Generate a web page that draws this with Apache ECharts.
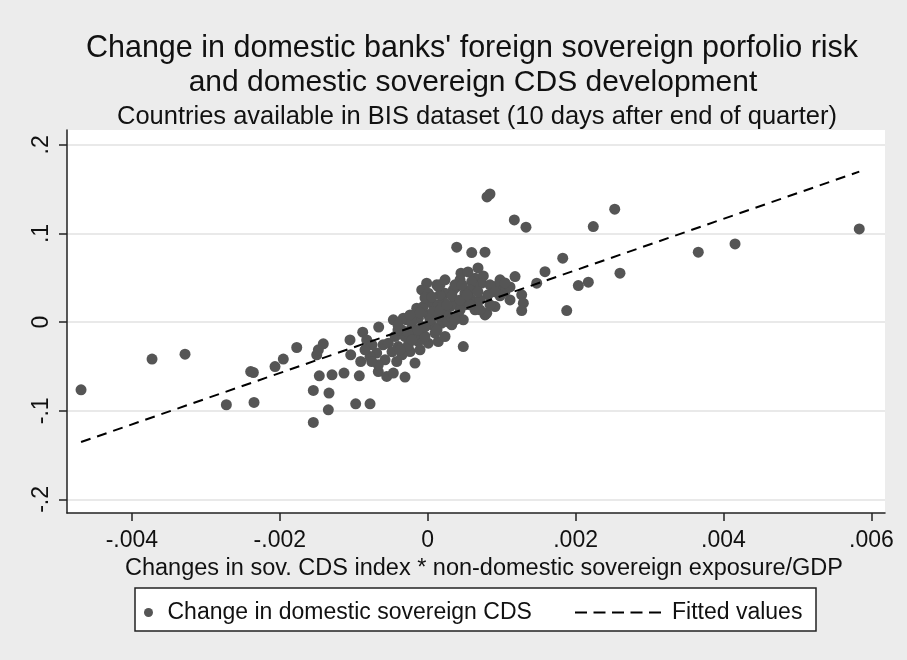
<!DOCTYPE html>
<html>
<head>
<meta charset="utf-8">
<script src="https://cdn.jsdelivr.net/npm/echarts@6/dist/echarts.min.js"></script>
<style>
  html, body { margin: 0; padding: 0; background: #ececec; }
  #chart { width: 907px; height: 660px; }
</style>
</head>
<body>
<div id="chart"></div>
<script>
// Exposure-weighted CDS changes (x) vs. change in domestic sovereign CDS (y)
const cdsExposure = [
  -0.004688, -0.003728, -0.003282, -0.002723, -0.002394, -0.002358, -0.002349, -0.002065, -0.001953, -0.001771,
  -0.001547, -0.001547, -0.001501, -0.001479, -0.001466, -0.001412, -0.001335, -0.001344, -0.001294, -0.001132,
  -0.001051, -0.001041, -0.000974, -0.000925, -0.000906, -0.000879, -0.000825, -0.000780, -0.000663, -0.000690,
  -0.000780, -0.000668, -0.000554, -0.000465, -0.000307, -0.000419, -0.000172, -0.000239, -0.000465, -0.000284,
  -0.000330, -0.000604, -0.000533, -0.000398, -0.000262, -0.000127, 0.000008, 0.000143, -0.000442, -0.000307,
  -0.000172, -0.000037, 0.000099, 0.000234, -0.000352, -0.000216, -0.000081, 0.000054, 0.000189, 0.000325,
  -0.000127, 0.000008, 0.000143, 0.000257, 0.000414, 0.000481, -0.000149, -0.000060, 0.000054, 0.000143,
  0.000302, 0.000369, -0.000014, 0.000122, -0.000081, 0.000008, 0.000234, 0.000211, 0.000504, 0.000572,
  0.000504, 0.000640, 0.000437, 0.000392, 0.000346, 0.000450, 0.000392, 0.000595, 0.000775, 0.000640,
  0.000752, 0.000730, 0.000617, 0.000595, 0.000978, 0.000955, 0.001181, 0.001022, 0.000910, 0.000775,
  0.001271, 0.001293, 0.001271, 0.001045, 0.000798, 0.000663, 0.000481, 0.000842, 0.000802, 0.001171,
  0.001329, 0.001826, 0.001586, 0.001474, 0.001880, 0.002037, 0.002172, 0.002239, 0.002529, 0.002600,
  0.003659, 0.004156, 0.005836, 0.000072, 0.000275, -0.000212, -0.000037, 0.000166, 0.000329, 0.000437,
  0.000572, 0.000815, 0.000707, -0.000483, -0.000348, -0.000577, -0.000104, -0.000402, -0.000753, -0.000848,
  0.000978, 0.001113, 0.000369, 0.000143, -0.000668, -0.000757, -0.000402, -0.000266, -0.000131, 0.000031,
  0.000166, 0.000261, 0.000329, 0.000437, 0.000531, 0.000680, 0.000842, 0.000910, 0.001045, 0.001113,
  0.000572, 0.000464, 0.000166, 0.000058, -0.000104, -0.000239, -0.000375, -0.000212, -0.000037, 0.000126,
  0.000369, 0.000707, 0.000842, 0.000234, 0.000545, 0.000680
];
const domesticCds = [
  -0.0763, -0.0417, -0.0361, -0.0932, -0.0557, -0.0568, -0.0906, -0.0501, -0.0417, -0.0286,
  -0.0771, -0.1132, -0.0369, -0.0312, -0.0605, -0.0245, -0.0800, -0.0989, -0.0594, -0.0575,
  -0.0200, -0.0369, -0.0921, -0.0605, -0.0444, -0.0113, -0.0200, -0.0921, -0.0056, -0.0349,
  -0.0388, -0.0557, -0.0613, -0.0575, -0.0620, -0.0444, -0.0462, -0.0331, 0.0026, 0.0026,
  0.0045, -0.0256, -0.0237, -0.0275, -0.0256, -0.0219, -0.0237, -0.0219, -0.0162, -0.0162,
  -0.0143, -0.0162, -0.0124, -0.0162, -0.0087, -0.0068, -0.0050, -0.0030, -0.0011, -0.0030,
  0.0045, 0.0082, 0.0063, 0.0082, 0.0082, 0.0026, 0.0158, 0.0176, 0.0214, 0.0195,
  0.0176, 0.0214, 0.0440, 0.0421, 0.0364, 0.0327, 0.0327, 0.0232, 0.0327, 0.0271,
  0.0195, 0.0139, 0.0477, 0.0401, 0.0364, 0.0552, 0.0846, 0.0785, 0.0789, 0.0496,
  0.0522, 0.0440, 0.0421, 0.0458, 0.0477, 0.0421, 0.0514, 0.0364, 0.0176, 0.0082,
  0.0308, 0.0214, 0.0131, 0.0345, 0.0101, 0.0232, -0.0275, 0.1446, 0.1413, 0.1153,
  0.1071, 0.0722, 0.0570, 0.0440, 0.0131, 0.0413, 0.0451, 0.1078, 0.1274, 0.0552,
  0.0789, 0.0883, 0.1052, 0.0116, 0.0003, 0.0003, 0.0274, 0.0308, 0.0297, 0.0139,
  0.0364, 0.0308, 0.0251, -0.0335, -0.0369, -0.0425, -0.0312, -0.0087, -0.0256, -0.0312,
  0.0297, 0.0398, 0.0421, 0.0401, -0.0481, -0.0444, -0.0030, -0.0109, -0.0087, 0.0026,
  0.0139, 0.0195, 0.0048, 0.0251, 0.0308, 0.0342, 0.0421, 0.0342, 0.0443, 0.0251,
  0.0195, 0.0421, 0.0421, 0.0285, 0.0105, 0.0082, -0.0312, -0.0200, -0.0053, -0.0087,
  0.0026, 0.0139, 0.0195, 0.0477, 0.0567, 0.0612
];

// Linear fit, evaluated at the extremes of x
const fitX = [-0.004688, 0.005836];
const fitY = [-0.1353, 0.1698];

// Axis ticks and their printed labels
const xTicks = [-0.004, -0.002, 0, 0.002, 0.004, 0.006];
const xTickLabels = ['-.004', '-.002', '0', '.002', '.004', '.006'];
const yTicks = [-0.2, -0.1, 0, 0.1, 0.2];
const yTickLabels = ['-.2', '-.1', '0', '.1', '.2'];

const titleLines = [
  "Change in domestic banks' foreign sovereign porfolio risk",
  'and domestic sovereign CDS development'
];
const subtitle = 'Countries available in BIS dataset (10 days after end of quarter)';
const xAxisTitle = 'Changes in sov. CDS index * non-domestic sovereign exposure/GDP';
const scatterName = 'Change in domestic sovereign CDS';
const fitName = 'Fitted values';
const FONT = '"Liberation Sans", Arial, sans-serif';
const INK = '#111';

const labelFor = (ticks, labels) => v => {
  const i = ticks.findIndex(t => Math.abs(t - v) < 1e-9);
  return i >= 0 ? labels[i] : '';
};

// five short dashes, used as the legend key of the fitted line
const dashIcon = 'path://M0,0h12v2h-12zM18.5,0h12v2h-12zM37,0h12v2h-12zM55.5,0h12v2h-12zM74,0h12v2h-12z';

const headStyle = (size, lh) => ({ fontFamily: FONT, fontSize: size, fontWeight: 'normal', color: INK, lineHeight: lh });

const chart = echarts.init(document.getElementById('chart'), null, { renderer: 'canvas' });

chart.setOption({
  backgroundColor: '#ececec',
  animation: false,
  textStyle: { fontFamily: FONT },
  title: [
    { text: titleLines[0], left: 467, top: 27, textAlign: 'center', textStyle: headStyle(30.5, 34) },
    { text: titleLines[1], left: 468, top: 61, textAlign: 'center', textStyle: headStyle(30, 34) },
    { text: subtitle, left: 472, top: 98, textAlign: 'center', textStyle: headStyle(25.5, 28) }
  ],
  grid: {
    left: 67, right: 22, top: 130, bottom: 147,
    show: true, backgroundColor: '#ffffff', borderWidth: 0
  },
  xAxis: {
    type: 'value',
    min: -0.004878, max: 0.006184,
    name: xAxisTitle,
    nameLocation: 'middle', nameGap: 37,
    nameTextStyle: { fontFamily: FONT, fontSize: 23.5, color: INK, padding: [0, 0, 0, 16] },
    axisLine: { show: true, onZero: false, lineStyle: { color: '#222', width: 1.5 } },
    axisTick: { show: true, length: 8, customValues: xTicks, lineStyle: { color: '#222', width: 1.5 } },
    axisLabel: {
      customValues: xTicks, formatter: labelFor(xTicks, xTickLabels),
      fontFamily: FONT, fontSize: 23, color: INK, margin: 16
    },
    splitLine: { show: false }
  },
  yAxis: {
    type: 'value',
    min: -0.21533, max: 0.2168,
    axisLine: { show: true, onZero: false, lineStyle: { color: '#222', width: 1.5 } },
    axisTick: { show: true, length: 8, customValues: yTicks, lineStyle: { color: '#222', width: 1.5 } },
    axisLabel: {
      customValues: yTicks, formatter: labelFor(yTicks, yTickLabels),
      rotate: 90, fontFamily: FONT, fontSize: 23, color: INK, margin: 14
    },
    splitLine: { show: true, lineStyle: { color: '#e2e2e2', width: 1.5 } }
  },
  legend: [
    {
      data: [{ name: scatterName, icon: 'circle' }],
      left: 139, top: 596,
      itemWidth: 20, itemHeight: 9, itemGap: 10,
      textStyle: { fontFamily: FONT, fontSize: 23, color: INK, padding: [0, 0, 0, 4] }
    },
    {
      data: [{ name: fitName, icon: dashIcon }],
      left: 570, top: 596,
      itemWidth: 86, itemHeight: 2,
      textStyle: { fontFamily: FONT, fontSize: 23, color: INK, padding: [0, 0, 0, 6] }
    }
  ],
  graphic: [
    {
      type: 'rect', z: 0,
      shape: { x: 135, y: 588, width: 681, height: 43 },
      style: { fill: '#ffffff', stroke: '#222', lineWidth: 1.5 }
    }
  ],
  series: [
    {
      name: scatterName,
      type: 'scatter',
      symbol: 'circle', symbolSize: 11,
      itemStyle: { color: '#555555', opacity: 1 },
      data: cdsExposure.map((x, i) => [x, domesticCds[i]]),
      z: 2
    },
    {
      name: fitName,
      type: 'line',
      symbol: 'none',
      color: '#000',
      itemStyle: { color: '#000' },
      lineStyle: { color: '#000', width: 2, type: [10, 7] },
      data: fitX.map((x, i) => [x, fitY[i]]),
      z: 3
    }
  ]
});
</script>
</body>
</html>
